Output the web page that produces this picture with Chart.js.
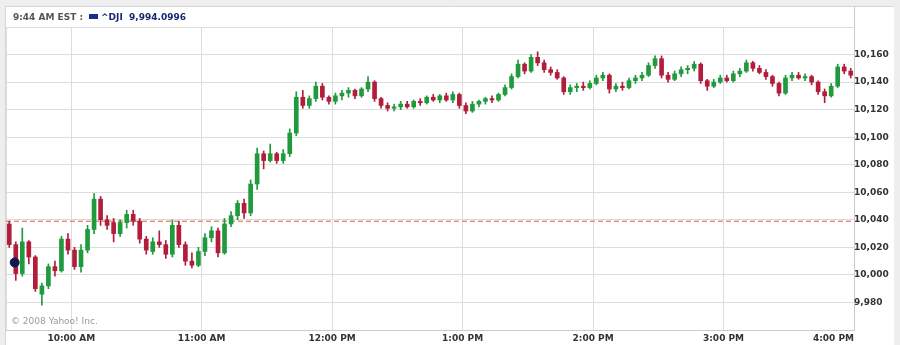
<!DOCTYPE html>
<html>
<head>
<meta charset="utf-8">
<script src="https://cdn.jsdelivr.net/npm/chart.js@4.4.1/dist/chart.umd.min.js"></script>
<style>
  body { margin: 0; background: #fff; }
  #wrap { position: relative; width: 900px; height: 345px; }
  #header { position: absolute; left: 13px; top: 11px; font: bold 9px "DejaVu Sans"; line-height: 12px; color: #555; white-space: nowrap; }
  #header .sq { display: inline-block; width: 9px; height: 5px; background: #1c2a88; margin: 0 3px 1px 6px; }
  #header .sym { color: #1a2870; }
  #copy { position: absolute; left: 11px; top: 315px; font: 9px "DejaVu Sans"; line-height: 12px; color: #9a9a9a; }
</style>
</head>
<body>
<div id="wrap">
  <canvas id="plot1" width="900" height="345"></canvas>
  <div id="header">9:44 AM EST :<span class="sq"></span><span class="sym">^DJI&nbsp; 9,994.0996</span></div>
  <div id="copy">&copy; 2008 Yahoo! Inc.</div>
</div>
<script>
// 3-minute candles from 9:30 (minute 0) to 16:00 (minute 390)
const opens = [
  10037, 10022, 10001, 10024, 10013, 9986, 9992, 10006, 10003, 10026,
  10018, 10006, 10018, 10033, 10055, 10040, 10038, 10030, 10038, 10044,
  10039, 10026, 10017, 10024, 10022, 10015, 10036, 10022, 10010, 10007,
  10017, 10027, 10032, 10016, 10037, 10043, 10052, 10045, 10066, 10088,
  10083, 10088, 10083, 10088, 10103, 10129, 10123, 10128, 10137, 10129,
  10126, 10130, 10132, 10134, 10130, 10135, 10140, 10128, 10123, 10121,
  10122, 10124, 10122, 10126, 10125, 10129, 10127, 10130, 10127, 10131,
  10123, 10119, 10124, 10126, 10128, 10127, 10131, 10136, 10144, 10153,
  10148, 10158, 10154, 10149, 10147, 10143, 10133, 10136, 10137, 10136,
  10139, 10143, 10145, 10135, 10137, 10136, 10141, 10143, 10145, 10152,
  10157, 10145, 10142, 10146, 10149, 10150, 10153, 10141, 10137, 10140,
  10143, 10141, 10146, 10148, 10154, 10150, 10147, 10144, 10139, 10132,
  10143, 10145, 10143, 10144, 10140, 10133, 10130, 10137, 10151, 10148
];
const highs = [
  10039, 10024, 10034, 10025, 10014, 9994, 10008, 10010, 10028, 10030,
  10020, 10022, 10036, 10059, 10057, 10043, 10041, 10040, 10047, 10047,
  10041, 10028, 10027, 10032, 10025, 10040, 10039, 10024, 10016, 10020,
  10030, 10035, 10034, 10041, 10046, 10054, 10055, 10069, 10092, 10090,
  10095, 10089, 10091, 10106, 10133, 10134, 10130, 10140, 10139, 10130,
  10132, 10134, 10136, 10135, 10136, 10144, 10141, 10129, 10125, 10124,
  10126, 10126, 10127, 10128, 10130, 10131, 10131, 10132, 10133, 10132,
  10125, 10126, 10127, 10129, 10130, 10132, 10138, 10146, 10156, 10154,
  10160, 10162, 10156, 10151, 10149, 10144, 10138, 10139, 10140, 10141,
  10145, 10147, 10146, 10139, 10140, 10143, 10145, 10147, 10154, 10159,
  10159, 10147, 10148, 10151, 10152, 10155, 10154, 10142, 10142, 10145,
  10145, 10148, 10150, 10156, 10155, 10152, 10149, 10145, 10140, 10145,
  10147, 10147, 10146, 10145, 10141, 10135, 10139, 10153, 10153, 10150
];
const lows = [
  10020, 9996, 9999, 10008, 9988, 9978, 9990, 9999, 10002, 10015,
  10004, 10002, 10016, 10030, 10036, 10033, 10024, 10028, 10034, 10036,
  10023, 10015, 10015, 10020, 10012, 10013, 10020, 10007, 10005, 10006,
  10014, 10024, 10013, 10015, 10035, 10040, 10041, 10043, 10062, 10077,
  10082, 10081, 10081, 10086, 10101, 10121, 10121, 10126, 10127, 10124,
  10124, 10127, 10129, 10128, 10129, 10133, 10126, 10121, 10119, 10119,
  10120, 10121, 10121, 10123, 10124, 10126, 10125, 10126, 10125, 10121,
  10117, 10118, 10122, 10124, 10125, 10126, 10130, 10135, 10143, 10146,
  10147, 10152, 10147, 10145, 10142, 10131, 10131, 10133, 10134, 10135,
  10138, 10141, 10132, 10133, 10134, 10135, 10139, 10141, 10144, 10150,
  10143, 10140, 10141, 10144, 10146, 10148, 10139, 10134, 10136, 10139,
  10140, 10140, 10144, 10147, 10148, 10146, 10142, 10137, 10130, 10131,
  10141, 10142, 10141, 10138, 10131, 10125, 10129, 10136, 10146, 10143
];
const closes = [
  10022, 10001, 10024, 10013, 9990, 9992, 10006, 10003, 10026, 10018,
  10006, 10018, 10033, 10055, 10040, 10036, 10030, 10038, 10044, 10039,
  10026, 10018, 10024, 10022, 10015, 10036, 10022, 10010, 10007, 10017,
  10027, 10032, 10016, 10037, 10043, 10052, 10045, 10066, 10088, 10083,
  10088, 10083, 10088, 10103, 10129, 10123, 10128, 10137, 10129, 10126,
  10130, 10132, 10134, 10130, 10135, 10140, 10128, 10123, 10121, 10122,
  10124, 10122, 10126, 10125, 10129, 10127, 10130, 10127, 10131, 10123,
  10119, 10124, 10126, 10128, 10127, 10131, 10136, 10144, 10153, 10148,
  10158, 10154, 10149, 10147, 10143, 10133, 10136, 10137, 10136, 10139,
  10143, 10145, 10135, 10137, 10136, 10141, 10143, 10145, 10152, 10157,
  10145, 10142, 10146, 10149, 10150, 10153, 10141, 10137, 10140, 10143,
  10141, 10146, 10148, 10154, 10150, 10147, 10144, 10139, 10132, 10143,
  10145, 10143, 10144, 10140, 10133, 10130, 10137, 10151, 10148, 10145
];
const candleMinutes = 3;
const prevClose = 10039;
const markerTime = 4;       // minutes after 9:30
const markerValue = 10009;

const xTickValues = [0, 30, 90, 150, 210, 270, 330, 390];
const xTickLabels = ["", "10:00 AM", "11:00 AM", "12:00 PM", "1:00 PM", "2:00 PM", "3:00 PM", "4:00 PM"];
const yMin = 9960, yMax = 10180, yStep = 20;

const up = "#1f9a3c";
const down = "#b11d3b";

const times = closes.map((c, i) => i * candleMinutes + candleMinutes / 2);
const colors = closes.map((c, i) => c >= opens[i] ? up : down);

const frame = {
    id: "frame",
    beforeDraw(chart) {
        const c = chart.ctx;
        const a = chart.chartArea;
        c.save();
        c.fillStyle = "#eeeeee";
        c.fillRect(0, 0, chart.width, chart.height);
        c.fillStyle = "#ffffff";
        c.fillRect(5, 6, 889, 339);
        c.strokeStyle = "#d6d6d6";
        c.lineWidth = 1;
        c.beginPath();
        c.moveTo(5, 6.5); c.lineTo(894, 6.5);
        c.moveTo(5.5, 6); c.lineTo(5.5, 345);
        c.stroke();
        c.strokeStyle = "#cccccc";
        c.beginPath();
        c.moveTo(Math.round(a.right) + 0.5, 6); c.lineTo(Math.round(a.right) + 0.5, a.top);
        c.stroke();
        c.restore();
    }
};

const font = { family: "DejaVu Sans", size: 9, weight: "bold" };

new Chart(document.getElementById("plot1"), {
    type: "bar",
    data: {
        datasets: [
            {
                type: "scatter",
                data: [{ x: markerTime, y: markerValue }],
                pointRadius: 4.5,
                pointBackgroundColor: "#0e1a52",
                pointBorderColor: "#0e1a52",
                order: 0
            },
            {
                label: "body",
                data: times.map((t, i) => ({ x: t, y: [opens[i], closes[i]] })),
                backgroundColor: colors,
                barThickness: 4,
                minBarLength: 1,
                grouped: false,
                order: 1
            },
            {
                label: "wick",
                data: times.map((t, i) => ({ x: t, y: [lows[i], highs[i]] })),
                backgroundColor: colors,
                barThickness: 1,
                grouped: false,
                order: 2
            },
            {
                type: "line",
                data: [{ x: 0, y: prevClose }, { x: 390, y: prevClose }],
                borderColor: "#dc5f30",
                borderWidth: 1,
                borderDash: [5, 3],
                pointRadius: 0,
                order: 3
            }
        ]
    },
    options: {
        responsive: false,
        animation: false,
        layout: { padding: { left: 6, top: 27, right: 0, bottom: 0 } },
        plugins: { legend: { display: false }, tooltip: { enabled: false } },
        scales: {
            x: {
                type: "linear",
                min: 0,
                max: 390,
                offset: false,
                afterBuildTicks: s => { s.ticks = xTickValues.map(v => ({ value: v })); },
                afterFit: s => { s.height = 15; },
                grid: { color: "#dddddd", drawTicks: false, offset: false },
                border: { color: "#cccccc" },
                ticks: {
                    autoSkip: false,
                    maxRotation: 0,
                    align: "inner",
                    padding: 3,
                    color: "#333333",
                    font: font,
                    callback: (v, i) => xTickLabels[i]
                }
            },
            y: {
                position: "right",
                min: yMin,
                max: yMax,
                afterFit: s => { s.width = 46; },
                grid: { color: "#dddddd", drawTicks: false },
                border: { color: "#cccccc" },
                ticks: {
                    stepSize: yStep,
                    padding: 0,
                    color: "#333333",
                    font: font,
                    callback: v => (v === yMin || v === yMax) ? "" : v.toLocaleString("en-US")
                }
            }
        }
    },
    plugins: [frame]
});
</script>
</body>
</html>
